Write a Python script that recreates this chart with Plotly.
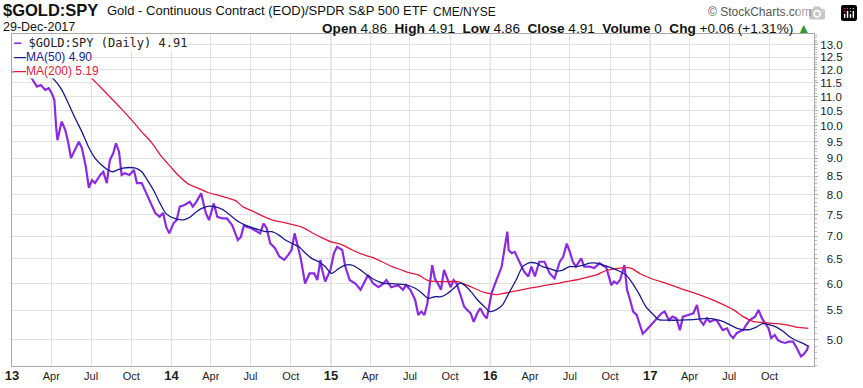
import math
import plotly.graph_objects as go

# ---------------- data ----------------
price_dates = [
    "2013-01-02", "2013-01-18", "2013-02-01", "2013-02-15", "2013-02-27", "2013-03-08", "2013-03-18",
    "2013-03-26", "2013-04-02", "2013-04-08", "2013-04-12", "2013-04-15", "2013-04-22", "2013-04-25",
    "2013-05-03", "2013-05-10", "2013-05-16", "2013-05-24", "2013-06-03", "2013-06-10", "2013-06-19",
    "2013-06-26", "2013-07-03", "2013-07-10", "2013-07-22", "2013-07-29", "2013-08-06", "2013-08-13",
    "2013-08-21", "2013-08-27", "2013-09-03", "2013-09-09", "2013-09-16", "2013-09-27", "2013-10-07",
    "2013-10-14", "2013-10-25", "2013-11-01", "2013-11-12", "2013-11-25", "2013-12-05", "2013-12-13",
    "2013-12-20", "2013-12-27",
    "2014-01-06", "2014-01-13", "2014-01-20", "2014-01-31", "2014-02-12", "2014-02-19", "2014-02-27",
    "2014-03-10", "2014-03-17", "2014-03-21", "2014-03-28", "2014-04-08", "2014-04-16", "2014-04-28",
    "2014-05-08", "2014-05-20", "2014-06-02", "2014-06-09", "2014-06-16", "2014-06-23", "2014-07-03",
    "2014-07-15", "2014-07-23", "2014-07-31", "2014-08-07", "2014-08-15", "2014-08-26", "2014-09-05",
    "2014-09-16", "2014-09-25", "2014-10-03", "2014-10-10", "2014-10-17", "2014-10-24", "2014-11-03",
    "2014-11-13", "2014-11-24", "2014-12-01", "2014-12-08", "2014-12-12", "2014-12-19", "2014-12-31",
    "2015-01-08", "2015-01-15", "2015-01-27", "2015-02-03", "2015-02-13", "2015-02-26", "2015-03-10",
    "2015-03-20", "2015-03-27", "2015-04-08", "2015-04-20", "2015-05-01", "2015-05-08", "2015-05-19",
    "2015-06-04", "2015-06-15", "2015-06-22", "2015-07-02", "2015-07-13", "2015-07-20", "2015-07-27",
    "2015-08-03", "2015-08-10", "2015-08-21", "2015-08-27", "2015-09-03", "2015-09-10", "2015-09-17",
    "2015-09-25", "2015-10-02", "2015-10-09", "2015-10-16", "2015-10-26", "2015-11-02", "2015-11-09",
    "2015-11-17", "2015-11-24", "2015-12-02", "2015-12-09", "2015-12-17", "2015-12-24",
    "2016-01-04", "2016-01-12", "2016-01-19", "2016-01-27", "2016-02-02", "2016-02-09", "2016-02-12",
    "2016-02-19", "2016-02-26", "2016-03-04", "2016-03-11", "2016-03-18", "2016-03-28", "2016-04-04",
    "2016-04-12", "2016-04-22", "2016-05-04", "2016-05-16", "2016-05-27", "2016-06-08", "2016-06-16",
    "2016-06-24", "2016-07-01", "2016-07-08", "2016-07-15", "2016-07-27", "2016-08-03", "2016-08-15",
    "2016-08-26", "2016-09-07", "2016-09-19", "2016-09-22", "2016-10-04", "2016-10-10", "2016-10-17",
    "2016-10-24", "2016-11-03", "2016-11-09", "2016-11-16", "2016-11-23", "2016-12-01", "2016-12-08",
    "2016-12-15", "2016-12-23",
    "2017-01-05", "2017-01-12", "2017-01-20", "2017-01-27", "2017-02-03", "2017-02-13", "2017-02-21",
    "2017-03-02", "2017-03-10", "2017-03-17", "2017-03-29", "2017-04-10", "2017-04-18", "2017-04-25",
    "2017-05-03", "2017-05-11", "2017-05-18", "2017-05-26", "2017-06-02", "2017-06-09", "2017-06-16",
    "2017-06-26", "2017-07-03", "2017-07-10", "2017-07-18", "2017-07-26", "2017-08-02", "2017-08-09",
    "2017-08-17", "2017-08-29", "2017-09-06", "2017-09-14", "2017-09-21", "2017-09-29", "2017-10-05",
    "2017-10-13", "2017-10-20", "2017-10-27", "2017-11-06", "2017-11-14", "2017-11-24", "2017-12-01",
    "2017-12-12", "2017-12-18", "2017-12-26", "2017-12-29",
]
price_values = [
    11.90, 12.00, 11.80, 11.67, 11.36, 11.42, 11.24,
    11.30, 11.12, 10.88, 9.98, 9.55, 9.98, 10.14,
    9.87, 9.46, 9.01, 9.25, 9.50, 9.31, 8.76,
    8.18, 8.39, 8.31, 8.53, 8.62, 8.31, 8.95,
    9.16, 9.45, 9.20, 8.53, 8.58, 8.53, 8.67,
    8.31, 8.31, 8.13, 7.87, 7.54, 7.45, 7.54,
    7.21, 7.06,
    7.30, 7.37, 7.70, 7.74, 7.82, 7.70, 7.82,
    8.04, 7.70, 7.53, 7.37, 7.78, 7.45, 7.41,
    7.41, 7.25, 6.91, 6.98, 7.25, 7.21, 7.18,
    7.10, 7.06, 7.29, 7.18, 6.84, 6.73, 6.55,
    6.48, 6.58, 6.69, 7.06, 6.76, 6.51, 6.00,
    6.20, 6.20, 6.07, 6.48, 6.27, 6.04, 6.27,
    6.62, 6.76, 6.69, 6.34, 6.07, 6.00, 5.88,
    6.07, 6.17, 6.00, 5.93, 6.00, 6.07, 5.93,
    5.97, 5.88, 5.97, 5.88, 5.69, 5.42, 5.48,
    5.42, 5.63, 6.37, 6.10, 6.00, 5.88, 6.27,
    6.10, 5.93, 6.07, 6.00, 5.75, 5.57, 5.51,
    5.45, 5.30, 5.45, 5.54, 5.42, 5.36,
    5.82, 6.00, 6.17, 6.34, 6.69, 7.10, 6.69,
    6.62, 6.65, 6.51, 6.37, 6.24, 6.14, 6.34,
    6.14, 6.44, 6.44, 6.20, 6.10, 6.44, 6.55,
    6.83, 6.65, 6.44, 6.34, 6.51, 6.34, 6.34,
    6.31, 6.41, 6.34, 6.34, 5.97, 6.04, 6.00,
    6.07, 6.37, 5.88, 5.69, 5.48, 5.42, 5.27,
    5.10, 5.16,
    5.27, 5.33, 5.39, 5.45, 5.48, 5.33, 5.39,
    5.36, 5.16, 5.39, 5.42, 5.45, 5.60, 5.33,
    5.25, 5.36, 5.30, 5.33, 5.33, 5.25, 5.16,
    5.19, 5.08, 5.03, 5.11, 5.14, 5.16, 5.25,
    5.33, 5.39, 5.51, 5.36, 5.27, 5.19, 5.03,
    5.08, 5.00, 4.97, 4.95, 4.97, 4.97, 4.89,
    4.74, 4.77, 4.84, 4.91,
]

ma50_dates = [
    "2013-03-04", "2013-03-26", "2013-04-10", "2013-04-25", "2013-05-10", "2013-05-24", "2013-06-10",
    "2013-06-25", "2013-07-10", "2013-07-25", "2013-08-09", "2013-08-20", "2013-08-30", "2013-09-12",
    "2013-09-27", "2013-10-11", "2013-10-25", "2013-11-07", "2013-11-22", "2013-12-06", "2013-12-20",
    "2014-01-08", "2014-01-20", "2014-01-31", "2014-02-14", "2014-02-28", "2014-03-17", "2014-04-01",
    "2014-04-21", "2014-05-05", "2014-05-20", "2014-06-04", "2014-06-19", "2014-07-03", "2014-07-21",
    "2014-08-04", "2014-08-19", "2014-09-04", "2014-09-19", "2014-10-03", "2014-10-20", "2014-11-04",
    "2014-11-18", "2014-12-04", "2014-12-19",
    "2015-01-02", "2015-01-19", "2015-02-03", "2015-02-18", "2015-03-05", "2015-03-20", "2015-04-06",
    "2015-04-20", "2015-05-05", "2015-05-21", "2015-06-05", "2015-06-24", "2015-07-13", "2015-07-28",
    "2015-08-12", "2015-08-27", "2015-09-11", "2015-09-25", "2015-10-12", "2015-10-23", "2015-11-03",
    "2015-11-18", "2015-12-03", "2015-12-18", "2015-12-31",
    "2016-01-14", "2016-01-29", "2016-02-12", "2016-02-29", "2016-03-15", "2016-03-31", "2016-04-15",
    "2016-04-29", "2016-05-16", "2016-05-31", "2016-06-15", "2016-06-30", "2016-07-15", "2016-08-01",
    "2016-08-15", "2016-08-31", "2016-09-15", "2016-09-30", "2016-10-24", "2016-11-07", "2016-11-22",
    "2016-12-08", "2016-12-22",
    "2017-01-09", "2017-01-20", "2017-02-08", "2017-03-10", "2017-04-10", "2017-05-11", "2017-06-02",
    "2017-06-16", "2017-07-03", "2017-07-19", "2017-08-02", "2017-08-17", "2017-09-01", "2017-09-15",
    "2017-10-02", "2017-10-17", "2017-11-01", "2017-11-16", "2017-12-01", "2017-12-18", "2017-12-29",
]
ma50_values = [
    11.95, 11.80, 11.57, 11.24, 10.76, 10.30, 9.81,
    9.35, 9.01, 8.81, 8.67, 8.62, 8.67, 8.72,
    8.74, 8.72, 8.62, 8.39, 8.10, 7.78, 7.52,
    7.41, 7.38, 7.38, 7.45, 7.58, 7.68, 7.71,
    7.66, 7.58, 7.45, 7.33, 7.25, 7.20, 7.14,
    7.10, 7.10, 7.02, 6.91, 6.84, 6.76, 6.62,
    6.51, 6.44, 6.34,
    6.20, 6.30, 6.37, 6.37, 6.30, 6.20, 6.10,
    6.04, 6.00, 6.00, 5.99, 5.97, 5.91, 5.82,
    5.72, 5.75, 5.75, 5.81, 5.93, 6.01, 5.97,
    5.84, 5.69, 5.57, 5.48,
    5.51, 5.60, 5.81, 6.07, 6.34, 6.42, 6.41,
    6.34, 6.30, 6.25, 6.27, 6.34, 6.34, 6.37,
    6.41, 6.41, 6.37, 6.33, 6.24, 6.17, 6.00,
    5.78, 5.57,
    5.42, 5.34, 5.33, 5.33, 5.34, 5.36, 5.34,
    5.31, 5.25, 5.19, 5.17, 5.17, 5.21, 5.27,
    5.25, 5.21, 5.14, 5.05, 4.99, 4.94, 4.90,
]

ma200_dates = [
    "2013-06-10", "2013-07-03", "2013-07-25", "2013-08-16", "2013-09-09", "2013-10-02", "2013-10-25",
    "2013-11-18", "2013-12-09",
    "2014-01-02", "2014-01-16", "2014-02-07", "2014-03-03", "2014-03-25", "2014-04-21", "2014-05-13",
    "2014-05-28", "2014-06-13", "2014-07-07", "2014-07-28", "2014-08-20", "2014-09-12", "2014-10-03",
    "2014-10-28", "2014-11-20", "2014-12-12",
    "2015-01-02", "2015-01-27", "2015-02-19", "2015-03-13", "2015-04-06", "2015-04-28", "2015-05-21",
    "2015-06-12", "2015-06-26", "2015-07-20", "2015-08-11", "2015-09-03", "2015-09-25", "2015-10-19",
    "2015-11-03", "2015-11-25", "2015-12-18",
    "2016-01-14", "2016-02-05", "2016-02-29", "2016-03-23", "2016-04-15", "2016-05-09", "2016-05-31",
    "2016-06-23", "2016-07-15", "2016-08-08", "2016-08-31", "2016-09-22", "2016-10-24", "2016-11-18",
    "2016-12-08",
    "2017-01-03", "2017-02-08", "2017-03-17", "2017-04-26", "2017-06-02", "2017-07-11", "2017-08-02",
    "2017-08-24", "2017-09-15", "2017-10-17", "2017-11-09", "2017-12-01", "2017-12-29",
]
ma200_values = [
    12.06, 11.66, 11.30, 10.94, 10.56, 10.19, 9.81,
    9.45, 9.06,
    8.72, 8.53, 8.30, 8.17, 8.06, 7.98, 7.91,
    7.85, 7.70, 7.58, 7.47, 7.37, 7.32, 7.27,
    7.20, 7.07, 6.96,
    6.87, 6.80, 6.69, 6.60, 6.53, 6.44, 6.34,
    6.27, 6.22, 6.17, 6.06, 6.04, 6.04, 6.04,
    5.99, 5.91, 5.83,
    5.79, 5.82, 5.86, 5.90, 5.93, 5.97, 6.00,
    6.04, 6.07, 6.12, 6.17, 6.26, 6.31, 6.31,
    6.20,
    6.10, 6.00, 5.89, 5.78, 5.66, 5.51, 5.39,
    5.31, 5.29, 5.27, 5.25, 5.21, 5.19,
]

y_tick_values = [5.0, 5.5, 6.0, 6.5, 7.0, 7.5, 8.0, 8.5, 9.0, 9.5,
                 10.0, 10.5, 11.0, 11.5, 12.0, 12.5, 13.0]

x_tick_dates = [
    "2013-01-01", "2013-04-01", "2013-07-01", "2013-10-01",
    "2014-01-01", "2014-04-01", "2014-07-01", "2014-10-01",
    "2015-01-01", "2015-04-01", "2015-07-01", "2015-10-01",
    "2016-01-01", "2016-04-01", "2016-07-01", "2016-10-01",
    "2017-01-01", "2017-04-01", "2017-07-01", "2017-10-01",
]
x_tick_labels = [
    "13", "Apr", "Jul", "Oct", "14", "Apr", "Jul", "Oct",
    "15", "Apr", "Jul", "Oct", "16", "Apr", "Jul", "Oct",
    "17", "Apr", "Jul", "Oct",
]
year_lines = ["2014-01-01", "2015-01-01", "2016-01-01", "2017-01-01"]

# ---------------- styling ----------------
W, H = 863, 388
L, R, T, B = 12, 814, 34, 366
FONT = "Arial, 'Liberation Sans', sans-serif"
PURPLE = "#8A2BE2"
NAVY = "#1A1A8E"
RED = "#E3173E"


def px(x):
    return (x - L) / (R - L)


def py(y):
    return (B - y) / (B - T)


fig = go.Figure()
fig.add_trace(go.Scatter(x=price_dates, y=price_values, mode="lines",
                         line=dict(color=PURPLE, width=2.2), hoverinfo="skip"))
fig.add_trace(go.Scatter(x=ma200_dates, y=ma200_values, mode="lines",
                         line=dict(color=RED, width=1.3, shape="spline", smoothing=0.6),
                         hoverinfo="skip"))
fig.add_trace(go.Scatter(x=ma50_dates, y=ma50_values, mode="lines",
                         line=dict(color=NAVY, width=1.3, shape="spline", smoothing=0.6),
                         hoverinfo="skip"))

tick_text_x = [("<span style='font-size:13px'><b>%s</b></span>" % t) if t.isdigit() else t
               for t in x_tick_labels]
tick_text_y = [("%.1f" % v) if v >= 10 else ("\u2007%.1f" % v) for v in y_tick_values]

shapes = []
for d in year_lines:
    shapes.append(dict(type="line", xref="x", yref="paper", x0=d, x1=d, y0=0, y1=1,
                       line=dict(color="#c4c4c4", width=1), layer="below"))

fig.update_layout(
    template="none",
    width=W, height=H,
    margin=dict(l=L, r=W - R, t=T, b=H - B, pad=0, autoexpand=False),
    paper_bgcolor="white", plot_bgcolor="white",
    showlegend=False,
    font=dict(family=FONT, color="#111"),
    shapes=shapes,
    xaxis=dict(
        type="date", range=["2013-01-01", "2018-01-11"], automargin=False,
        tickmode="array", tickvals=x_tick_dates, ticktext=tick_text_x,
        showgrid=True, gridcolor="#e2e2e2", gridwidth=1,
        showline=True, linecolor="#a9a9a9", linewidth=1, mirror=True,
        ticks="", tickfont=dict(size=11, color="#222", family=FONT),
        zeroline=False, fixedrange=True,
    ),
    yaxis=dict(
        type="log", side="right", automargin=False,
        range=[math.log10(4.594), math.log10(13.47)],
        tickmode="array", tickvals=y_tick_values, ticktext=tick_text_y,
        showgrid=True, gridcolor="#e2e2e2", gridwidth=1,
        showline=True, linecolor="#a9a9a9", linewidth=1, mirror=True,
        ticks="outside", ticklen=3, tickcolor="#a9a9a9",
        tickfont=dict(size=11.5, color="#222", family=FONT),
        minor=dict(ticks="outside", ticklen=2, tickcolor="#bbbbbb",
                   tickvals=[round(4.6 + 0.1 * i, 1) for i in range(89)], showgrid=False),
        zeroline=False, fixedrange=True,
    ),
)

ann = []


def text(x, y, s, size, color="#111", anchor="left", family=FONT, bg=None):
    d = dict(xref="paper", yref="paper", x=px(x), y=py(y), text=s, showarrow=False,
             xanchor=anchor, yanchor="middle", font=dict(size=size, color=color, family=family),
             borderpad=0)
    if bg:
        d["bgcolor"] = bg
    ann.append(d)


text(2, 10, "<b>$GOLD:SPY</b>", 16.5)
text(106, 10.5, "Gold - Continuous Contract (EOD)/SPDR S&P 500 ETF", 13)
text(432, 11.5, "CME/NYSE", 12)
text(813, 11.5, "\u00a9 StockCharts.com", 12, color="#555", anchor="right")
text(2, 27.5, "29-Dec-2017", 12.5)
text(812, 28,
     "<b>Open</b> 4.86  <b>High</b> 4.91  <b>Low</b> 4.86  <b>Close</b> 4.91  "
     "<b>Volume</b> 0  <b>Chg</b> +0.06 (+1.31%) <span style='color:#2e9a2e'>\u25b2</span>",
     13.6, anchor="right")

# legend rows
text(13, 43, "<span style='color:%s'><b>\u2014</b></span> $GOLD:SPY (Daily) 4.91" % PURPLE,
     12, color="#222", family="'DejaVu Sans Mono', monospace", bg="white")
text(13, 57, "<b>\u2014</b>MA(50) 4.90", 12, color=NAVY, bg="white")
text(13, 71, "<b>\u2014</b>MA(200) 5.19", 12, color=RED, bg="white")

fig.update_layout(annotations=ann)

fig.write_html("out.html", post_script="document.body.style.margin='0px';")
